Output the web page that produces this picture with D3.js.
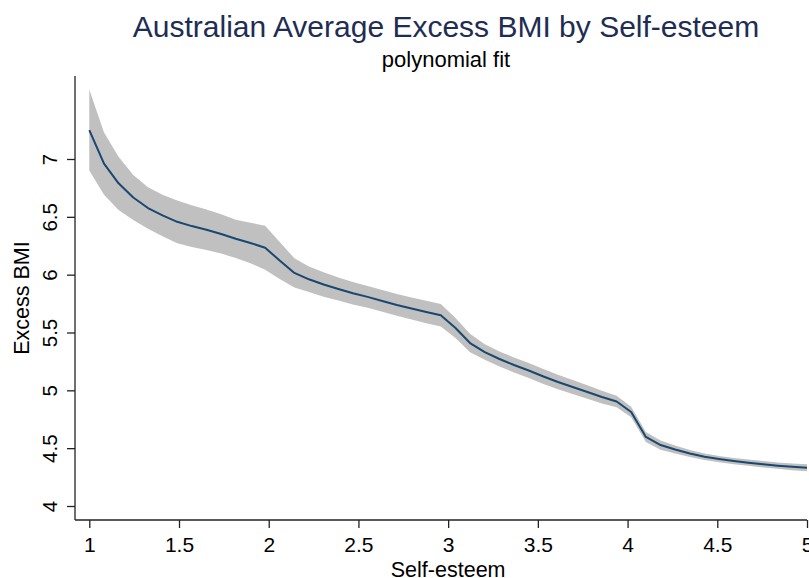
<!DOCTYPE html>
<html>
<head>
<meta charset="utf-8">
<script src="https://cdn.jsdelivr.net/npm/d3@7"></script>
<style>
  body { margin: 0; background: #fff; }
  text { font-family: "Liberation Sans", Arial, sans-serif; }
</style>
</head>
<body>
<svg id="bmi-chart"></svg>
<script>
// self-esteem grid the fit was evaluated on (50 points)
const selfEsteem = [
  1.000, 1.082, 1.163, 1.245, 1.327, 1.408, 1.490, 1.571, 1.653, 1.735,
  1.816, 1.898, 1.980, 2.061, 2.143, 2.224, 2.306, 2.388, 2.469, 2.551,
  2.633, 2.714, 2.796, 2.878, 2.959, 3.041, 3.122, 3.204, 3.286, 3.367,
  3.449, 3.531, 3.612, 3.694, 3.776, 3.857, 3.939, 4.020, 4.102, 4.184,
  4.265, 4.347, 4.429, 4.510, 4.592, 4.673, 4.755, 4.837, 4.918, 5.000
];
// fitted excess BMI
const fitBMI = [
  7.250, 6.960, 6.790, 6.667, 6.576, 6.512, 6.457, 6.420, 6.388, 6.352,
  6.310, 6.274, 6.233, 6.122, 6.015, 5.960, 5.915, 5.876, 5.840, 5.808,
  5.773, 5.738, 5.708, 5.677, 5.649, 5.539, 5.409, 5.331, 5.271, 5.219,
  5.171, 5.120, 5.072, 5.029, 4.986, 4.942, 4.903, 4.813, 4.597, 4.527,
  4.489, 4.454, 4.425, 4.406, 4.389, 4.374, 4.361, 4.349, 4.339, 4.330
];
// confidence band
const ciLow = [
  6.900, 6.690, 6.560, 6.472, 6.396, 6.332, 6.272, 6.240, 6.213, 6.182,
  6.145, 6.099, 6.043, 5.962, 5.888, 5.850, 5.810, 5.776, 5.743, 5.714,
  5.679, 5.644, 5.613, 5.580, 5.551, 5.453, 5.329, 5.264, 5.206, 5.154,
  5.106, 5.055, 5.010, 4.969, 4.928, 4.887, 4.853, 4.768, 4.554, 4.487,
  4.454, 4.424, 4.397, 4.379, 4.362, 4.347, 4.333, 4.321, 4.310, 4.300
];
const ciHigh = [
  7.600, 7.230, 7.020, 6.862, 6.756, 6.692, 6.642, 6.600, 6.563, 6.522,
  6.475, 6.449, 6.423, 6.282, 6.142, 6.070, 6.020, 5.976, 5.937, 5.902,
  5.867, 5.832, 5.803, 5.774, 5.747, 5.625, 5.489, 5.398, 5.336, 5.284,
  5.236, 5.185, 5.134, 5.089, 5.044, 4.997, 4.953, 4.858, 4.640, 4.567,
  4.524, 4.484, 4.453, 4.433, 4.416, 4.401, 4.389, 4.377, 4.368, 4.360
];
const xTicks = [1, 1.5, 2, 2.5, 3, 3.5, 4, 4.5, 5];
const yTicks = [4, 4.5, 5, 5.5, 6, 6.5, 7];

const points = selfEsteem.map((x, i) => ({ x, fit: fitBMI[i], lo: ciLow[i], hi: ciHigh[i] }));

const width = 809, height = 578;
const frame = { left: 75, right: 807, top: 76, bottom: 520 };
const navy = "#1a476f";

const svg = d3.select("#bmi-chart")
    .attr("width", width)
    .attr("height", height);

const xScale = d3.scaleLinear().domain([1, 5]).range([89.3, 807]);
const yScale = d3.scaleLinear().domain([4, 7]).range([506, 159]);

// confidence band
svg.append("path")
    .datum(points)
    .attr("fill", "#c0c0c0")
    .attr("d", d3.area()
        .x(d => xScale(d.x))
        .y0(d => yScale(d.lo))
        .y1(d => yScale(d.hi)));

// fitted line
svg.append("path")
    .datum(points)
    .attr("fill", "none")
    .attr("stroke", navy)
    .attr("stroke-width", 2)
    .attr("stroke-linejoin", "round")
    .attr("d", d3.line()
        .x(d => xScale(d.x))
        .y(d => yScale(d.fit)));

// y axis
const yAxis = svg.append("g")
    .attr("transform", `translate(${frame.left}, 0)`)
    .call(d3.axisLeft(yScale).tickValues(yTicks).tickSize(8).tickSizeOuter(0).tickFormat(d3.format("")));
yAxis.select(".domain").remove();
yAxis.append("line")
    .attr("y1", frame.top).attr("y2", frame.bottom)
    .attr("stroke", "#222").attr("stroke-width", 1.3);
yAxis.selectAll(".tick line").attr("stroke", "#222").attr("stroke-width", 1.3);
yAxis.selectAll(".tick text")
    .attr("x", null).attr("dy", null)
    .attr("transform", "translate(-18, 0) rotate(-90)")
    .attr("text-anchor", "middle")
    .attr("fill", "#000")
    .style("font-size", "20.5px");

// x axis
const xAxis = svg.append("g")
    .attr("transform", `translate(0, ${frame.bottom})`)
    .call(d3.axisBottom(xScale).tickValues(xTicks).tickSize(8).tickSizeOuter(0).tickFormat(d3.format("")));
xAxis.select(".domain").remove();
xAxis.append("line")
    .attr("x1", frame.left).attr("x2", frame.right)
    .attr("stroke", "#222").attr("stroke-width", 1.3);
xAxis.selectAll(".tick line").attr("stroke", "#222").attr("stroke-width", 1.3);
xAxis.selectAll(".tick text")
    .attr("y", 32).attr("dy", null)
    .attr("fill", "#000")
    .style("font-size", "21px");

// axis titles
svg.append("text")
    .attr("transform", `translate(29, ${(frame.top + frame.bottom) / 2}) rotate(-90)`)
    .attr("text-anchor", "middle")
    .style("font-size", "21.5px")
    .text("Excess BMI");

svg.append("text")
    .attr("x", (89.3 + 807) / 2)
    .attr("y", 577)
    .attr("text-anchor", "middle")
    .style("font-size", "21.5px")
    .text("Self-esteem");

// titles
svg.append("text")
    .attr("x", 446)
    .attr("y", 37)
    .attr("text-anchor", "middle")
    .attr("fill", "#1e2d53")
    .style("font-size", "30px")
    .text("Australian Average Excess BMI by Self-esteem");

svg.append("text")
    .attr("x", 446)
    .attr("y", 67)
    .attr("text-anchor", "middle")
    .style("font-size", "22px")
    .text("polynomial fit");
</script>
</body>
</html>
